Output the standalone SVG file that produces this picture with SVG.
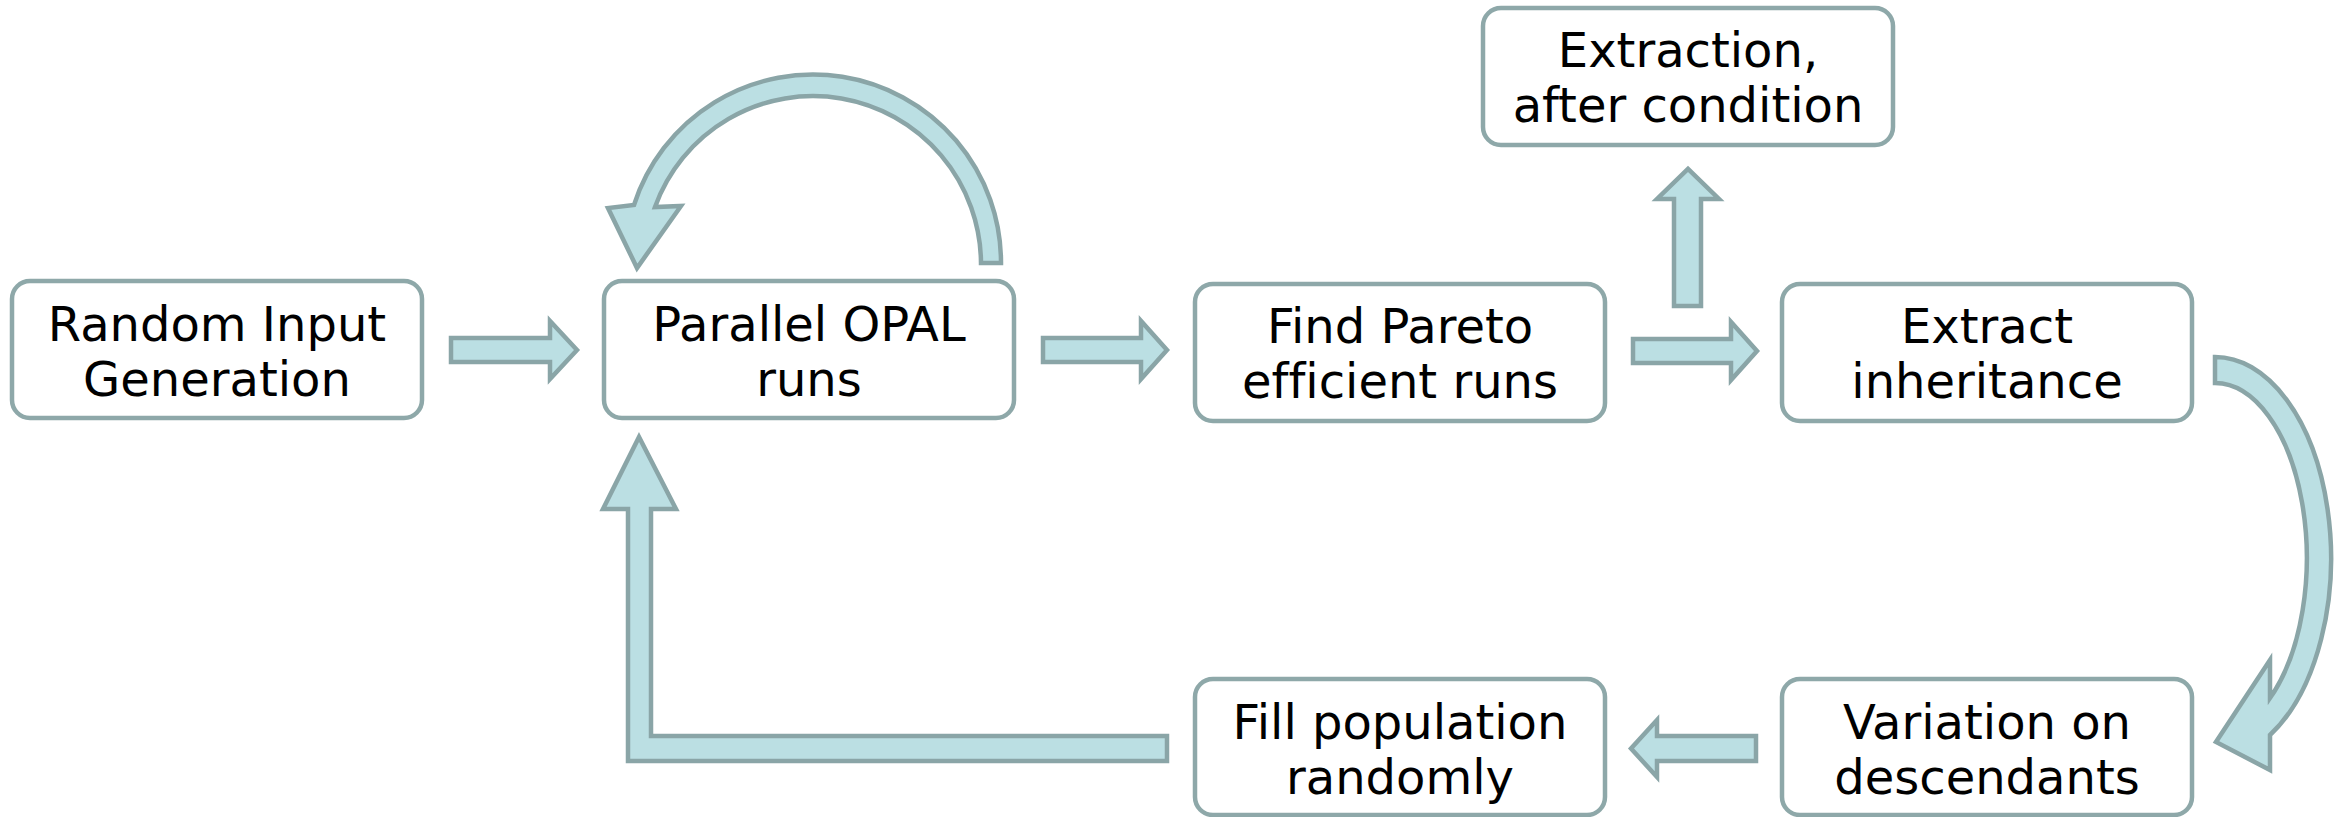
<svg xmlns="http://www.w3.org/2000/svg" width="2341" height="817" viewBox="0 0 2341 817">
<style>
.box{fill:#ffffff;stroke:#8ea8a9;stroke-width:4.5}
.arr{fill:#bbdfe3;stroke:#8aa5a7;stroke-width:4.5;stroke-linejoin:miter}
.t{font-family:"DejaVu Sans",Verdana,sans-serif;font-size:48px;fill:#000;text-anchor:middle;font-variant-ligatures:none;font-feature-settings:"liga" 0}
</style>
<rect width="2341" height="817" fill="#ffffff"/>
<g id="connectors">
<path class="arr" d="M451 338 H550 V321 L577 350 L550 379 V362 H451 Z"/>
<path class="arr" d="M1043 338 H1141 V321 L1167 350 L1141 379 V362 H1043 Z"/>
<path class="arr" d="M1633 339 H1731 V322 L1757 351 L1731 380 V363 H1633 Z"/>
<path class="arr" d="M1674 306 V199 H1657 L1688 169 L1719 199 H1701 V306 Z"/>
<path class="arr" d="M1756 736 H1657 V720 L1631 748.5 L1657 777 V761 H1756 Z"/>
<path class="arr" d="M1167 736 H651 V509 H676 L639 437 L603 509 H628 V761 H1167 Z"/>
<path class="arr" d="M1001 263 A188 188 0 0 0 634 205 L608 208 L637 268 L681 206 L655 207 A168 168 0 0 1 981 263 Z"/>
<path class="arr" d="M2215 357 A116 201 0 0 1 2270 735 L2270 770 L2216 742 L2270 660 L2270 698 A92 175 0 0 0 2215 383 Z"/>
</g>
<g id="node-random">
<rect class="box" x="12" y="281" width="410" height="137" rx="18"/>
<text class="t" x="217" y="341">Random Input</text>
<text class="t" x="217" y="396">Generation</text>
</g>
<g id="node-parallel">
<rect class="box" x="604" y="281" width="410" height="137" rx="18"/>
<text class="t" x="809" y="341">Parallel OPAL</text>
<text class="t" x="809" y="396">runs</text>
</g>
<g id="node-pareto">
<rect class="box" x="1195" y="284" width="410" height="137" rx="18"/>
<text class="t" x="1400" y="343">Find Pareto</text>
<text class="t" x="1400" y="398">efficient runs</text>
</g>
<g id="node-inherit">
<rect class="box" x="1782" y="284" width="410" height="137" rx="18"/>
<text class="t" x="1987" y="343">Extract</text>
<text class="t" x="1987" y="398">inheritance</text>
</g>
<g id="node-extraction">
<rect class="box" x="1483" y="8" width="410" height="137" rx="18"/>
<text class="t" x="1688" y="67">Extraction,</text>
<text class="t" x="1688" y="122">after condition</text>
</g>
<g id="node-fill">
<rect class="box" x="1195" y="679" width="410" height="136" rx="18"/>
<text class="t" x="1400" y="739">Fill population</text>
<text class="t" x="1400" y="794">randomly</text>
</g>
<g id="node-variation">
<rect class="box" x="1782" y="679" width="410" height="136" rx="18"/>
<text class="t" x="1987" y="739">Variation on</text>
<text class="t" x="1987" y="794">descendants</text>
</g>
</svg>
